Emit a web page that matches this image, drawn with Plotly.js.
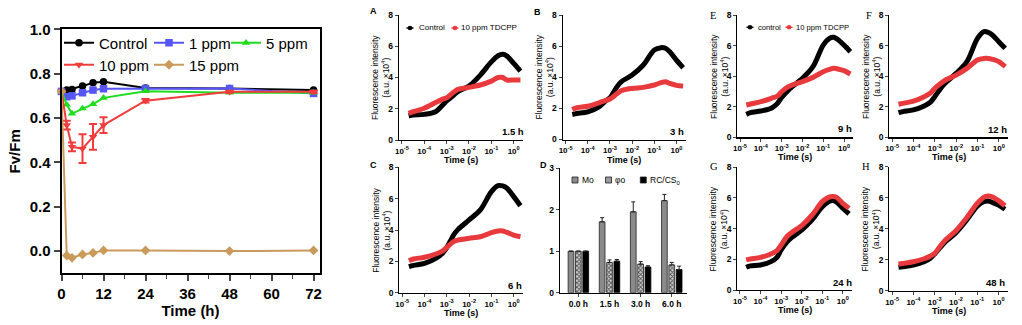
<!DOCTYPE html>
<html><head><meta charset="utf-8">
<script src="https://cdn.plot.ly/plotly-3.0.1.min.js"></script>
<style>html,body{margin:0;padding:0;background:#fff}#chart{width:1022px;height:325px}</style>
</head><body><div id="chart"></div>
<script>
// ---------- Main panel: Fv/Fm ----------
const hours = [0, 1.5, 3, 6, 9, 12, 24, 48, 72];
const fvControl = [0.720, 0.726, 0.729, 0.744, 0.759, 0.763, 0.735, 0.733, 0.726];
const fv1ppm   = [0.720, 0.696, 0.700, 0.714, 0.726, 0.732, 0.733, 0.733, 0.711];
const fv5ppm   = [0.720, 0.660, 0.620, 0.643, 0.663, 0.691, 0.721, 0.714, 0.714];
const fv10ppm  = [0.720, 0.568, 0.470, 0.462, 0.515, 0.568, 0.678, 0.718, 0.718];
const err10ppm = [0, 0.020, 0.020, 0.065, 0.058, 0.035, 0.008, 0.005, 0.005];
const fv15ppm  = [0.720, -0.020, -0.030, -0.015, -0.008, 0.003, 0.003, 0.000, 0.003];
const mainTicksX = [0, 12, 24, 36, 48, 60, 72];
const mainTicksY = [0.0, 0.2, 0.4, 0.6, 0.8, 1.0];

// ---------- OJIP curves (time in s, intensity ×10^4) ----------
const tSec = [2e-5, 3.2e-5, 1e-4, 3.2e-4, 6.3e-4, 1e-3, 2e-3, 3.2e-3, 1e-2, 3.2e-2, 0.1, 0.2, 0.32, 0.5, 1, 2];
const ctlA = [1.55,1.60,1.64,1.81,2.20,2.50,2.85,3.10,3.45,4.15,5.00,5.39,5.48,5.37,4.90,4.41];
const trtA = [1.70,1.81,2.03,2.40,2.60,2.70,3.05,3.24,3.37,3.52,3.77,4.00,4.00,3.84,3.84,3.84];
const ctlB = [1.61,1.67,1.78,2.10,2.47,2.68,3.35,3.71,4.14,4.79,5.75,5.90,5.86,5.64,5.10,4.61];
const trtB = [1.93,2.04,2.14,2.36,2.50,2.60,2.92,3.13,3.28,3.35,3.50,3.65,3.71,3.60,3.48,3.43];
const ctlC = [1.66,1.74,1.87,2.19,2.51,2.87,3.68,4.04,4.64,5.28,6.45,6.83,6.81,6.66,6.13,5.55];
const trtC = [2.04,2.15,2.26,2.47,2.65,2.89,3.26,3.36,3.47,3.57,3.83,3.94,3.94,3.85,3.68,3.57];
const ctlE = [1.50,1.61,1.72,1.90,2.22,2.61,3.05,3.31,3.86,4.62,6.03,6.47,6.54,6.40,6.03,5.60];
const trtE = [2.11,2.18,2.33,2.55,2.70,2.98,3.30,3.42,3.64,3.92,4.29,4.44,4.51,4.47,4.36,4.14];
const ctlF = [1.61,1.68,1.79,2.05,2.30,2.66,3.25,3.57,4.18,4.95,6.47,6.91,6.86,6.69,6.25,5.82];
const trtF = [2.16,2.22,2.37,2.66,2.90,3.20,3.55,3.75,4.07,4.51,5.05,5.16,5.16,5.10,4.95,4.62];
const ctlG = [1.48,1.57,1.63,1.85,2.13,2.61,3.15,3.41,3.91,4.57,5.43,5.76,5.83,5.72,5.33,4.96];
const trtG = [1.96,2.02,2.13,2.35,2.57,2.93,3.52,3.74,4.20,4.89,5.76,6.04,6.09,6.04,5.65,5.33];
const ctlH = [1.51,1.55,1.66,1.87,2.10,2.37,2.85,3.16,3.74,4.56,5.46,5.74,5.78,5.70,5.53,5.25];
const trtH = [1.72,1.76,1.87,2.06,2.24,2.41,2.95,3.27,3.87,4.71,5.63,6.02,6.11,6.06,5.81,5.48];
const logTickVals = [1e-5, 1e-4, 1e-3, 1e-2, 1e-1, 1];
const logTickText = ['10<sup>-5</sup>','10<sup>-4</sup>','10<sup>-3</sup>','10<sup>-2</sup>','10<sup>-1</sup>','10<sup>0</sup>'];

// ---------- Panel D: JIP parameters (relative) ----------
const dCats = ['0.0 h', '1.5 h', '3.0 h', '6.0 h'];
const dMo   = [1.00, 1.71, 1.95, 2.22];
const dMoE  = [0, 0.10, 0.24, 0.15];
const dPhi  = [1.00, 0.73, 0.69, 0.67];
const dPhiE = [0, 0.06, 0.06, 0.06];
const dRC   = [1.00, 0.76, 0.62, 0.56];
const dRCE  = [0, 0.04, 0.03, 0.08];

// ---------- geometry helpers ----------
const W = 1022, H = 325;
const fx = p => p / W;
const fy = p => 1 - p / H;
const dx = (a, b) => [fx(a), fx(b)];
const dy = (top, bot) => [fy(bot), fy(top)];

const ARIAL = 'Liberation Sans, Arial, sans-serif';
const RED = '#e8393d';
const traces = [];

// main traces (each in its own legend so entries sit where the reference shows them)
const mainStyle = [
  {y: fvControl, name: 'Control', color: '#000000', sym: 'circle', legend: 'legend'},
  {y: fv1ppm, name: '1 ppm', color: '#5656f5', sym: 'square', legend: 'legend2'},
  {y: fv5ppm, name: '5 ppm', color: '#1fdc1f', sym: 'triangle-up', legend: 'legend3'},
  {y: fv10ppm, name: '10 ppm', color: '#f03c3c', sym: 'triangle-down', legend: 'legend4', err: err10ppm},
  {y: fv15ppm, name: '15 ppm', color: '#c99a5b', sym: 'diamond', legend: 'legend5'}
];
mainStyle.forEach(s => {
  const t = {
    x: hours, y: s.y, name: s.name, type: 'scatter', mode: 'lines+markers',
    xaxis: 'x', yaxis: 'y', legend: s.legend, cliponaxis: false,
    line: {color: s.color, width: 2},
    marker: {color: s.color, symbol: s.sym, size: 7.5}
  };
  if (s.err) t.error_y = {type: 'data', array: s.err, visible: true, color: s.color, thickness: 2, width: 4};
  traces.push(t);
});

// OJIP panels
const ojip = [
  {ax: '2', c: ctlA, t: trtA},
  {ax: '3', c: ctlB, t: trtB},
  {ax: '4', c: ctlC, t: trtC},
  {ax: '6', c: ctlE, t: trtE},
  {ax: '7', c: ctlF, t: trtF},
  {ax: '8', c: ctlG, t: trtG},
  {ax: '9', c: ctlH, t: trtH}
];
ojip.forEach(p => {
  [[p.c, '#000000', 'Control'], [p.t, RED, '10 ppm TDCPP']].forEach(([vals, col, nm]) => {
    traces.push({
      x: tSec, y: vals, name: nm, type: 'scatter', mode: 'lines',
      xaxis: 'x' + p.ax, yaxis: 'y' + p.ax, showlegend: false,
      line: {color: col, width: 5, shape: 'spline', smoothing: 0.9}
    });
  });
});

// Panel D bars
traces.push({x: dCats, y: dMo, name: 'Mo', type: 'bar', xaxis: 'x5', yaxis: 'y5', showlegend: false,
  marker: {color: '#8a8a8a', line: {color: '#222', width: 0.8}},
  error_y: {type: 'data', array: dMoE, arrayminus: [0,0,0,0], symmetric: false, color: '#222', thickness: 1, width: 2}});
traces.push({x: dCats, y: dPhi, name: 'φo', type: 'bar', xaxis: 'x5', yaxis: 'y5', showlegend: false,
  marker: {color: '#ffffff', line: {color: '#222', width: 0.8}, pattern: {shape: 'x', fgcolor: '#555', bgcolor: '#cfcfcf', size: 3, solidity: 0.5}},
  error_y: {type: 'data', array: dPhiE, arrayminus: [0,0,0,0], symmetric: false, color: '#222', thickness: 1, width: 2}});
traces.push({x: dCats, y: dRC, name: 'RC/CS0', type: 'bar', xaxis: 'x5', yaxis: 'y5', showlegend: false,
  marker: {color: '#000000', line: {color: '#000', width: 0.8}},
  error_y: {type: 'data', array: dRCE, arrayminus: [0,0,0,0], symmetric: false, color: '#222', thickness: 1, width: 2}});

// ---------- layout ----------
function leg(textX, cy) {
  return {orientation: 'h', x: fx(textX - 39), y: fy(cy), xanchor: 'left', yanchor: 'middle',
    font: {size: 15, family: ARIAL}, bgcolor: 'rgba(0,0,0,0)', itemwidth: 30};
}
const layout = {
  width: W, height: H, margin: {l: 0, r: 0, t: 0, b: 0},
  paper_bgcolor: '#fff', plot_bgcolor: 'rgba(0,0,0,0)',
  font: {family: ARIAL, color: '#000'},
  barmode: 'group', bargap: 0.29, bargroupgap: 0.22,
  showlegend: true,
  legend: leg(98, 43), legend2: leg(188, 43), legend3: leg(265, 43),
  legend4: leg(98, 65), legend5: leg(188, 65),
  xaxis: {domain: dx(61.5, 319.5), range: [0, 73.7], tickvals: mainTicksX, ticks: 'outside', ticklen: 6, tickwidth: 2,
    showline: true, linewidth: 2, linecolor: '#000', mirror: true, showgrid: false, zeroline: false,
    minor: {dtick: 6, tick0: 0, ticks: 'outside', ticklen: 4, tickwidth: 1.5, showgrid: false},
    tickfont: {size: 15, family: ARIAL, weight: 'bold'},
    title: {text: '<b>Time (h)</b>', font: {size: 15, family: ARIAL}, standoff: 4}},
  yaxis: {domain: dy(29.3, 273.3), range: [-0.1, 1.0], tickvals: mainTicksY, tickformat: '.1f', ticks: 'outside', ticklen: 6, tickwidth: 2,
    showline: true, linewidth: 2, linecolor: '#000', mirror: true, showgrid: false, zeroline: false,
    tickfont: {size: 15, family: ARIAL, weight: 'bold'},
    title: {text: '<b>Fv/Fm</b>', font: {size: 15, family: ARIAL}}},
  annotations: [],
  shapes: []
};

function ann(text, px, py, opts) {
  layout.annotations.push(Object.assign({text: text, x: fx(px), y: fy(py), xref: 'paper', yref: 'paper',
    showarrow: false, xanchor: 'center', yanchor: 'middle', font: {size: 9, family: ARIAL, color: '#000'}}, opts || {}));
}

function ojipAxes(n, x0, x1, top, bot) {
  layout['xaxis' + n] = {domain: dx(x0, x1), type: 'log', range: [-5.13, 0.43], anchor: 'y' + n,
    tickvals: logTickVals, ticktext: logTickText, ticks: 'outside', ticklen: 3, tickwidth: 1,
    showline: true, linewidth: 1.2, linecolor: '#000', showgrid: false, zeroline: false,
    tickfont: {size: 8, family: ARIAL, weight: 'bold'}};
  layout['yaxis' + n] = {domain: dy(top, bot), range: [0, 8], anchor: 'x' + n,
    tickvals: [0, 2, 4, 6, 8], ticks: 'outside', ticklen: 3, tickwidth: 1,
    showline: true, linewidth: 1.2, linecolor: '#000', showgrid: false, zeroline: false,
    tickfont: {size: 8.5, family: ARIAL, weight: 'bold'}};
  // axis titles placed as in the reference
  ann('Fluorescence intensity<br>(a.u. ×10<sup>4</sup>)', x0 - 18.5, (top + bot) / 2,
    {textangle: -90, font: {size: 8.5, family: ARIAL}});
  ann('<b>Time (s)</b>', (x0 + x1) / 2, bot + 20, {font: {size: 9, family: ARIAL}, yanchor: 'middle'});
}
ojipAxes('2', 399, 523.3, 15, 140);
ojipAxes('3', 562.7, 686, 15, 139.5);
ojipAxes('4', 399.3, 523.3, 167.3, 292.7);
ojipAxes('6', 737.3, 853, 15, 137.3);
ojipAxes('7', 889.3, 1008, 15, 137.3);
ojipAxes('8', 737.3, 851.7, 167.3, 290);
ojipAxes('9', 889.3, 1007.7, 166.7, 290.7);

layout.xaxis5 = {domain: dx(560, 686.7), range: [-0.59, 3.48], anchor: 'y5', type: 'category',
  ticks: 'outside', ticklen: 3, tickwidth: 1, showline: true, linewidth: 1.2, linecolor: '#000', showgrid: false,
  tickfont: {size: 8.5, family: ARIAL, weight: 'bold'}};
layout.yaxis5 = {domain: dy(168.3, 292.7), range: [0, 3], anchor: 'x5', tickvals: [0, 1, 2, 3],
  ticks: 'outside', ticklen: 3, tickwidth: 1, showline: true, linewidth: 1.2, linecolor: '#000', showgrid: false, zeroline: false,
  tickfont: {size: 8.5, family: ARIAL, weight: 'bold'}};

// ---------- annotations: panel letters, time labels, small legends ----------
const SERIF = 'Liberation Serif, Times New Roman, serif';
ann('<b>A</b>', 373, 11); ann('<b>B</b>', 537, 12); ann('<b>C</b>', 373, 165); ann('<b>D</b>', 543.5, 165);
ann('E', 713, 15, {font: {size: 10.5, family: SERIF}}); ann('F', 868.5, 15, {font: {size: 10.5, family: SERIF}});
ann('G', 713.5, 166.5, {font: {size: 10.5, family: SERIF}}); ann('H', 866, 166.5, {font: {size: 10.5, family: SERIF}});
ann('<b>1.5 h</b>', 513, 132, {font: {size: 9.5, family: ARIAL}});
ann('<b>3 h</b>', 677, 132, {font: {size: 9.5, family: ARIAL}});
ann('<b>6 h</b>', 515, 285, {font: {size: 9.5, family: ARIAL}});
ann('<b>9 h</b>', 845, 128, {font: {size: 9.5, family: ARIAL}});
ann('<b>12 h</b>', 997, 129, {font: {size: 9.5, family: ARIAL}});
ann('<b>24 h</b>', 842, 282, {font: {size: 9.5, family: ARIAL}});
ann('<b>48 h</b>', 995, 282, {font: {size: 9.5, family: ARIAL}});

// legend symbols for OJIP panels A and E (line + dot)
function legSym(cx, cy, color) {
  layout.shapes.push({type: 'line', xref: 'paper', yref: 'paper', x0: fx(cx - 3.5), x1: fx(cx + 3.5), y0: fy(cy), y1: fy(cy), line: {color: color, width: 1.5}});
  layout.shapes.push({type: 'circle', xref: 'paper', yref: 'paper', x0: fx(cx - 2.3), x1: fx(cx + 2.3), y0: fy(cy + 2.3), y1: fy(cy - 2.3), fillcolor: color, line: {width: 0}});
}
legSym(410, 28, '#000'); ann('Control', 416.5, 28, {xanchor: 'left', font: {size: 8, family: ARIAL}});
legSym(455, 28, RED); ann('10 ppm TDCPP', 459, 28, {xanchor: 'left', font: {size: 8, family: ARIAL}});
legSym(750, 27.3, '#000'); ann('control', 755.5, 27.3, {xanchor: 'left', font: {size: 7.6, family: ARIAL}});
legSym(789, 27.3, RED); ann('10 ppm TDCPP', 794, 27.3, {xanchor: 'left', font: {size: 7.6, family: ARIAL}});

// legend for D (boxes)
function legBox(x0, color) {
  layout.shapes.push({type: 'rect', xref: 'paper', yref: 'paper', x0: fx(x0), x1: fx(x0 + 6), y0: fy(183), y1: fy(177),
    fillcolor: color, line: {color: '#222', width: 0.8}});
}
legBox(572, '#8a8a8a'); ann('Mo', 580, 180, {xanchor: 'left', font: {size: 8.5, family: ARIAL}});
legBox(605.5, '#9a9a9a'); ann('φo', 613.3, 180, {xanchor: 'left', font: {size: 8.5, family: ARIAL}});
legBox(640.3, '#000'); ann('RC/CS<sub>0</sub>', 647.5, 180, {xanchor: 'left', font: {size: 8.5, family: ARIAL}});

Plotly.newPlot('chart', traces, layout, {staticPlot: true, displayModeBar: false});
</script></body></html>
